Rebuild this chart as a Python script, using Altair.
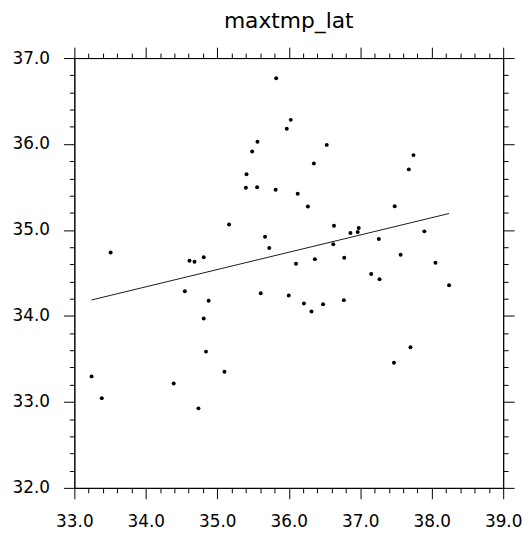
import altair as alt
import numpy as np
import pandas as pd

# Data (x = lat, y = maxtmp)
lat = [35.824, 36.028, 35.972, 35.562, 36.531, 35.488, 35.409, 36.351, 37.745, 37.680,
       35.400, 35.557, 35.816, 36.125, 36.267, 37.482, 35.165, 36.633, 36.979, 36.965,
       36.863, 37.897, 35.668, 37.260, 36.623, 35.727, 33.508, 34.611, 34.681, 34.810,
       36.101, 36.365, 36.776, 37.565, 38.053, 37.153, 37.270, 38.243, 34.546, 35.608,
       36.000, 34.879, 36.771, 36.212, 36.480, 36.318, 34.810, 37.703, 34.842, 37.472,
       35.100, 33.241, 34.390, 33.384, 34.736]
maxtmp = [36.765, 36.281, 36.177, 36.026, 35.990, 35.913, 35.648, 35.774, 35.871, 35.705,
          35.491, 35.498, 35.468, 35.422, 35.272, 35.275, 35.065, 35.049, 35.022, 34.976,
          34.964, 34.984, 34.922, 34.895, 34.834, 34.790, 34.737, 34.642, 34.630, 34.684,
          34.607, 34.661, 34.676, 34.711, 34.619, 34.488, 34.427, 34.357, 34.288, 34.265,
          34.238, 34.177, 34.184, 34.146, 34.135, 34.051, 33.970, 33.635, 33.585, 33.455,
          33.351, 33.297, 33.213, 33.044, 32.925]
title = "maxtmp_lat"
x_ticks = [round(v, 1) for v in np.arange(33.0, 39.0001, 0.2)]
y_ticks = [round(v, 1) for v in np.arange(32.0, 37.0001, 0.2)]

df = pd.DataFrame({"lat": lat, "maxtmp": maxtmp})

FONT = "DejaVu Sans"
is_major = "abs(datum.value - round(datum.value)) < 0.01"
tick_size = {"condition": {"test": is_major, "value": 11}, "value": 5}
label_expr = f"{is_major} ? format(datum.value, '.1f') : ''"

xscale = alt.Scale(domain=[33, 39], nice=False, zero=False)
yscale = alt.Scale(domain=[32, 37], nice=False, zero=False)

def mk_axis(orient, ticks, labels):
    kw = dict(orient=orient, values=ticks, title=None, grid=False,
              domainColor="black", domainWidth=1, tickColor="black", tickWidth=1,
              tickSize=tick_size, labelFont=FONT, labelFontSize=17,
              labelColor="black", labelExpr=label_expr, labelOverlap=False,
              labelFlush=False, labels=labels)
    if orient == "left":
        kw["labelPadding"] = 14
    if orient == "bottom":
        kw["labelPadding"] = 15
    return alt.Axis(**kw)

points = alt.Chart(df).mark_circle(size=16, color="black", opacity=1).encode(
    x=alt.X("lat:Q", scale=xscale, axis=mk_axis("bottom", x_ticks, True)),
    y=alt.Y("maxtmp:Q", scale=yscale, axis=mk_axis("left", y_ticks, True)),
)

fit = alt.Chart(df).transform_regression("lat", "maxtmp").mark_line(
    color="black", strokeWidth=0.9
).encode(
    x=alt.X("lat:Q", scale=xscale, axis=mk_axis("top", x_ticks, False)),
    y=alt.Y("maxtmp:Q", scale=yscale, axis=mk_axis("right", y_ticks, False)),
)

chart = alt.layer(points, fit).resolve_axis(x="independent", y="independent").properties(
    width=433, height=434,
    title=alt.TitleParams(title, font=FONT, fontSize=22, fontWeight="normal",
                          color="black", anchor="middle", offset=14),
    autosize=alt.AutoSizeParams(type="none"),
    padding={"left": 67, "top": 48, "right": 19, "bottom": 41},
).configure_view(stroke="black", strokeWidth=1)

chart.save("out.html", embed_options={"renderer": "svg", "actions": False})
